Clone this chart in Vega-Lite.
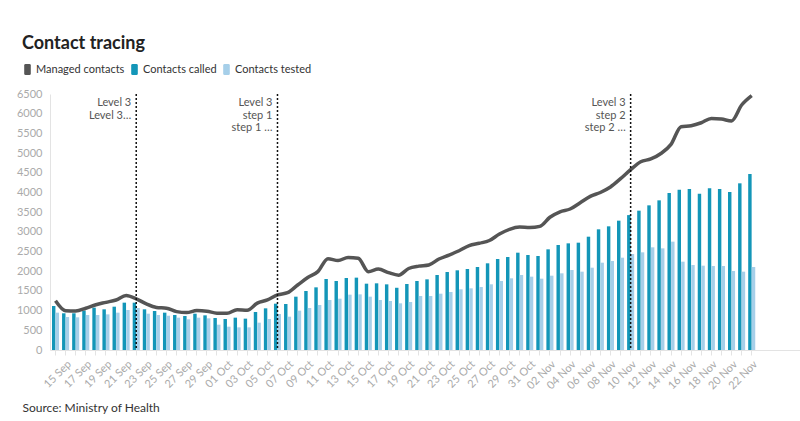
{
  "$schema": "https://vega.github.io/schema/vega-lite/v6.json",
  "width": 750,
  "height": 256,
  "autosize": "none",
  "padding": {"left": 50, "top": 94, "right": 0, "bottom": 71},
  "background": "white",
  "config": {"font": "Lato", "view": {"stroke": null}},
  "title": {"text": "Contact tracing", "anchor": "start", "frame": "group", "dx": -28, "offset": 11, "fontSize": 18, "fontWeight": "bold", "color": "#222"},
  "datasets": {
    "daily": [
      {"date": "2021-09-14", "called": 1117, "tested": 948, "managed": 1253},
      {"date": "2021-09-15", "called": 932, "tested": 838, "managed": 999},
      {"date": "2021-09-16", "called": 932, "tested": 830, "managed": 990},
      {"date": "2021-09-17", "called": 999, "tested": 889, "managed": 1060},
      {"date": "2021-09-18", "called": 1075, "tested": 889, "managed": 1150},
      {"date": "2021-09-19", "called": 1033, "tested": 905, "managed": 1210},
      {"date": "2021-09-20", "called": 1100, "tested": 948, "managed": 1270},
      {"date": "2021-09-21", "called": 1202, "tested": 1016, "managed": 1385},
      {"date": "2021-09-22", "called": 1202, "tested": 1066, "managed": 1300},
      {"date": "2021-09-23", "called": 1033, "tested": 922, "managed": 1170},
      {"date": "2021-09-24", "called": 990, "tested": 889, "managed": 1080},
      {"date": "2021-09-25", "called": 948, "tested": 870, "managed": 1060},
      {"date": "2021-09-26", "called": 889, "tested": 821, "managed": 975},
      {"date": "2021-09-27", "called": 863, "tested": 779, "managed": 950},
      {"date": "2021-09-28", "called": 922, "tested": 821, "managed": 1000},
      {"date": "2021-09-29", "called": 880, "tested": 804, "managed": 985},
      {"date": "2021-09-30", "called": 812, "tested": 643, "managed": 935},
      {"date": "2021-10-01", "called": 787, "tested": 592, "managed": 930},
      {"date": "2021-10-02", "called": 821, "tested": 575, "managed": 1025},
      {"date": "2021-10-03", "called": 796, "tested": 575, "managed": 1010},
      {"date": "2021-10-04", "called": 965, "tested": 694, "managed": 1190},
      {"date": "2021-10-05", "called": 1058, "tested": 787, "managed": 1270},
      {"date": "2021-10-06", "called": 1176, "tested": 914, "managed": 1400},
      {"date": "2021-10-07", "called": 1168, "tested": 846, "managed": 1455},
      {"date": "2021-10-08", "called": 1354, "tested": 999, "managed": 1650},
      {"date": "2021-10-09", "called": 1498, "tested": 1066, "managed": 1840},
      {"date": "2021-10-10", "called": 1591, "tested": 1143, "managed": 1990},
      {"date": "2021-10-11", "called": 1803, "tested": 1270, "managed": 2320},
      {"date": "2021-10-12", "called": 1752, "tested": 1303, "managed": 2270},
      {"date": "2021-10-13", "called": 1828, "tested": 1405, "managed": 2350},
      {"date": "2021-10-14", "called": 1837, "tested": 1413, "managed": 2330},
      {"date": "2021-10-15", "called": 1684, "tested": 1354, "managed": 1990},
      {"date": "2021-10-16", "called": 1693, "tested": 1270, "managed": 2055},
      {"date": "2021-10-17", "called": 1667, "tested": 1244, "managed": 1965},
      {"date": "2021-10-18", "called": 1580, "tested": 1185, "managed": 1900},
      {"date": "2021-10-19", "called": 1676, "tested": 1219, "managed": 2070},
      {"date": "2021-10-20", "called": 1752, "tested": 1371, "managed": 2130},
      {"date": "2021-10-21", "called": 1794, "tested": 1371, "managed": 2160},
      {"date": "2021-10-22", "called": 1905, "tested": 1430, "managed": 2310},
      {"date": "2021-10-23", "called": 1980, "tested": 1473, "managed": 2410},
      {"date": "2021-10-24", "called": 2023, "tested": 1541, "managed": 2520},
      {"date": "2021-10-25", "called": 2057, "tested": 1566, "managed": 2650},
      {"date": "2021-10-26", "called": 2108, "tested": 1600, "managed": 2710},
      {"date": "2021-10-27", "called": 2201, "tested": 1668, "managed": 2780},
      {"date": "2021-10-28", "called": 2310, "tested": 1752, "managed": 2945},
      {"date": "2021-10-29", "called": 2361, "tested": 1820, "managed": 3065},
      {"date": "2021-10-30", "called": 2471, "tested": 1904, "managed": 3120},
      {"date": "2021-10-31", "called": 2412, "tested": 1862, "managed": 3110},
      {"date": "2021-11-01", "called": 2387, "tested": 1811, "managed": 3140},
      {"date": "2021-11-02", "called": 2556, "tested": 1887, "managed": 3370},
      {"date": "2021-11-03", "called": 2666, "tested": 1947, "managed": 3510},
      {"date": "2021-11-04", "called": 2708, "tested": 2031, "managed": 3580},
      {"date": "2021-11-05", "called": 2725, "tested": 1989, "managed": 3740},
      {"date": "2021-11-06", "called": 2877, "tested": 2090, "managed": 3900},
      {"date": "2021-11-07", "called": 3064, "tested": 2217, "managed": 4000},
      {"date": "2021-11-08", "called": 3140, "tested": 2260, "managed": 4140},
      {"date": "2021-11-09", "called": 3284, "tested": 2344, "managed": 4350},
      {"date": "2021-11-10", "called": 3425, "tested": 2437, "managed": 4580},
      {"date": "2021-11-11", "called": 3538, "tested": 2480, "managed": 4780},
      {"date": "2021-11-12", "called": 3673, "tested": 2607, "managed": 4850},
      {"date": "2021-11-13", "called": 3800, "tested": 2581, "managed": 4990},
      {"date": "2021-11-14", "called": 3986, "tested": 2751, "managed": 5220},
      {"date": "2021-11-15", "called": 4071, "tested": 2243, "managed": 5670},
      {"date": "2021-11-16", "called": 4088, "tested": 2158, "managed": 5695},
      {"date": "2021-11-17", "called": 3969, "tested": 2141, "managed": 5770},
      {"date": "2021-11-18", "called": 4105, "tested": 2133, "managed": 5880},
      {"date": "2021-11-19", "called": 4088, "tested": 2133, "managed": 5865},
      {"date": "2021-11-20", "called": 4012, "tested": 2006, "managed": 5815},
      {"date": "2021-11-21", "called": 4232, "tested": 1989, "managed": 6220},
      {"date": "2021-11-22", "called": 4469, "tested": 2107, "managed": 6460}
    ],
    "events": [
      {"date": "2021-09-22", "label": ["Level 3", "Level 3…"]},
      {"date": "2021-10-06", "label": ["Level 3", "step 1", "step 1 …"]},
      {"date": "2021-11-10", "label": ["Level 3", "step 2", "step 2 …"]}
    ]
  },
  "encoding": {
    "x": {
      "field": "date", "type": "ordinal",
      "scale": {
        "type": "band", "paddingInner": 0.3, "paddingOuter": 0.315, "align": 0.31,
        "domain": ["2021-09-14","2021-09-15","2021-09-16","2021-09-17","2021-09-18","2021-09-19","2021-09-20","2021-09-21","2021-09-22","2021-09-23","2021-09-24","2021-09-25","2021-09-26","2021-09-27","2021-09-28","2021-09-29","2021-09-30","2021-10-01","2021-10-02","2021-10-03","2021-10-04","2021-10-05","2021-10-06","2021-10-07","2021-10-08","2021-10-09","2021-10-10","2021-10-11","2021-10-12","2021-10-13","2021-10-14","2021-10-15","2021-10-16","2021-10-17","2021-10-18","2021-10-19","2021-10-20","2021-10-21","2021-10-22","2021-10-23","2021-10-24","2021-10-25","2021-10-26","2021-10-27","2021-10-28","2021-10-29","2021-10-30","2021-10-31","2021-11-01","2021-11-02","2021-11-03","2021-11-04","2021-11-05","2021-11-06","2021-11-07","2021-11-08","2021-11-09","2021-11-10","2021-11-11","2021-11-12","2021-11-13","2021-11-14","2021-11-15","2021-11-16","2021-11-17","2021-11-18","2021-11-19","2021-11-20","2021-11-21","2021-11-22","2021-11-23","2021-11-24","2021-11-25","2021-11-26"]
      },
      "axis": {
        "values": ["2021-09-14","2021-09-15","2021-09-16","2021-09-17","2021-09-18","2021-09-19","2021-09-20","2021-09-21","2021-09-22","2021-09-23","2021-09-24","2021-09-25","2021-09-26","2021-09-27","2021-09-28","2021-09-29","2021-09-30","2021-10-01","2021-10-02","2021-10-03","2021-10-04","2021-10-05","2021-10-06","2021-10-07","2021-10-08","2021-10-09","2021-10-10","2021-10-11","2021-10-12","2021-10-13","2021-10-14","2021-10-15","2021-10-16","2021-10-17","2021-10-18","2021-10-19","2021-10-20","2021-10-21","2021-10-22","2021-10-23","2021-10-24","2021-10-25","2021-10-26","2021-10-27","2021-10-28","2021-10-29","2021-10-30","2021-10-31","2021-11-01","2021-11-02","2021-11-03","2021-11-04","2021-11-05","2021-11-06","2021-11-07","2021-11-08","2021-11-09","2021-11-10","2021-11-11","2021-11-12","2021-11-13","2021-11-14","2021-11-15","2021-11-16","2021-11-17","2021-11-18","2021-11-19","2021-11-20","2021-11-21","2021-11-22"],
        "title": "Source: Ministry of Health",
        "titleAnchor": "start", "titleAlign": "left", "titleX": -28, "titleY": 61,
        "titleBaseline": "alphabetic", "titleFontSize": 12, "titleFontWeight": "normal", "titleColor": "#333",
        "labelAngle": -45, "labelOverlap": false, "labelPadding": 3,
        "labelExpr": "(round((toDate(datum.value) - toDate('2021-09-14')) / 86400000) % 2 == 1) ? utcFormat(toDate(datum.value), '%d %b') : ''",
        "labelColor": "#aaa", "labelFontSize": 11,
        "tickColor": "#e3e3e3", "tickSize": 5, "domainColor": "#e3e3e3"
      }
    }
  },
  "layer": [
    {
      "encoding": {
        "y": {
          "field": "value", "type": "quantitative",
          "scale": {"domain": [0, 6500], "nice": false},
          "axis": {
            "title": null, "grid": false, "ticks": false, "labelPadding": 8, "format": "d", "labelOverlap": false,
            "values": [0, 500, 1000, 1500, 2000, 2500, 3000, 3500, 4000, 4500, 5000, 5500, 6000, 6500],
            "labelColor": "#aaa", "labelFontSize": 11, "domainColor": "#e3e3e3"
          }
        }
      },
      "layer": [
        {
          "data": {"name": "daily"},
          "transform": [{"fold": ["called", "tested"], "as": ["series", "value"]}],
          "mark": {"type": "bar"},
          "encoding": {
            "xOffset": {"field": "series", "scale": {"domain": ["called", "tested"], "paddingInner": 0.05}},
            "color": {
              "field": "series", "type": "nominal",
              "scale": {"domain": ["managed", "called", "tested"], "range": ["#555555", "#1396b8", "#a6cfe9"]},
              "legend": {
                "title": null, "orient": "none", "legendX": -28, "legendY": -30, "direction": "horizontal",
                "labelExpr": "datum.value == 'managed' ? 'Managed contacts' : datum.value == 'called' ? 'Contacts called' : 'Contacts tested'",
                "labelFontSize": 11, "labelColor": "#333", "labelOffset": 3, "columnPadding": 4,
                "symbolType": "M-0.35,-1H0.35Q0.6,-1 0.6,-0.75V0.75Q0.6,1 0.35,1H-0.35Q-0.6,1 -0.6,0.75V-0.75Q-0.6,-1 -0.35,-1Z",
                "symbolSize": 121, "symbolStrokeWidth": 0,
                "encode": {"symbols": {"update": {"fill": {"scale": "color", "field": "value"}, "stroke": {"value": "transparent"}}}}
              }
            }
          }
        },
        {
          "data": {"name": "daily"},
          "transform": [{"fold": ["managed"], "as": ["series", "value"]}],
          "mark": {"type": "line", "strokeWidth": 3.5, "interpolate": "monotone"},
          "encoding": {
            "color": {"field": "series", "type": "nominal"}
          }
        }
      ]
    },
    {
      "data": {"name": "events"},
      "mark": {"type": "rule", "strokeDash": [2, 2], "strokeWidth": 1.5, "color": "#111"},
      "encoding": {}
    },
    {
      "data": {"name": "events"},
      "mark": {"type": "text", "align": "right", "baseline": "top", "dx": -5, "lineHeight": 12.5, "fontSize": 11, "color": "#555"},
      "encoding": {
        "y": {
          "datum": 6420, "type": "quantitative",
          "scale": {"domain": [0, 6500], "nice": false},
          "axis": {
            "title": null, "grid": false, "ticks": false, "labelPadding": 8, "format": "d", "labelOverlap": false,
            "values": [0, 500, 1000, 1500, 2000, 2500, 3000, 3500, 4000, 4500, 5000, 5500, 6000, 6500],
            "labelColor": "#aaa", "labelFontSize": 11, "domainColor": "#e3e3e3"
          }
        },
        "text": {"field": "label"}
      }
    }
  ]
}
